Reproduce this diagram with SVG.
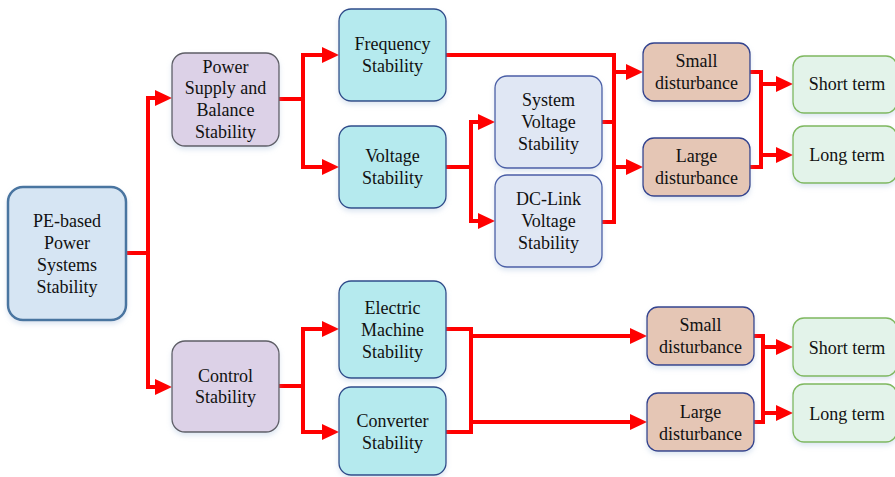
<svg xmlns="http://www.w3.org/2000/svg" width="895" height="477" viewBox="0 0 895 477" font-family="'Liberation Serif', 'DejaVu Serif', serif">
<style>
text{font-family:'Liberation Serif','DejaVu Serif',serif;font-size:18px;fill:#111;text-anchor:middle}
.b{stroke-width:1.3}
.pe{fill:#D6E5F3;stroke:#4A74A0;stroke-width:2.5}
.pu{fill:#DCD1E7;stroke:#5E5E66}
.cy{fill:#B5EAEE;stroke:#2F4C8A}
.lb{fill:#E0E7F4;stroke:#4A5EA6}
.br{fill:#E5C6B5;stroke:#33438F}
.gr{fill:#E3F3EA;stroke:#7FB85E}
.c{fill:none;stroke:#FF0000;stroke-width:4;marker-end:url(#ah)}
.n{fill:none;stroke:#FF0000;stroke-width:4}
</style>
<defs>
<marker id="ah" viewBox="0 0 17 16" refX="0" refY="8" markerWidth="17" markerHeight="16" markerUnits="userSpaceOnUse" orient="auto">
<path d="M0,0 L17,8 L0,16 z" fill="#FF0000"/>
</marker>
<filter id="sh" x="-10%" y="-10%" width="120%" height="130%">
<feDropShadow dx="0" dy="3" stdDeviation="2.5" flood-color="#9FB8D8" flood-opacity="0.35"/>
</filter>
</defs>
<rect width="895" height="477" fill="#fff"/>
<g id="connectors">
<path class="n" d="M126 253 H148"/>
<path class="c" d="M148 253 V98 H155"/>
<path class="c" d="M148 253 V387 H155"/>
<path class="n" d="M279 99 H303"/>
<path class="c" d="M303 99 V55 H322"/>
<path class="c" d="M303 99 V167 H322"/>
<path class="n" d="M446 167 H471"/>
<path class="c" d="M471 167 V122 H478"/>
<path class="c" d="M471 167 V221 H478"/>
<path class="n" d="M446 55 H614 V222 H602"/>
<path class="n" d="M602 122 H614"/>
<path class="c" d="M614 72 H626"/>
<path class="c" d="M614 167 H626"/>
<path class="n" d="M750 72 H761 V167 H750"/>
<path class="c" d="M761 84 H776"/>
<path class="c" d="M761 155 H776"/>
<path class="n" d="M279 386 H303"/>
<path class="c" d="M303 386 V329 H322"/>
<path class="c" d="M303 386 V432 H322"/>
<path class="n" d="M446 329 H471 V432 H446"/>
<path class="c" d="M471 336 H630"/>
<path class="c" d="M471 422 H630"/>
<path class="n" d="M754 336 H763 V422 H754"/>
<path class="c" d="M763 347 H776"/>
<path class="c" d="M763 413 H776"/>
</g>
<g id="pe"><rect class="pe" x="8" y="187" width="118" height="133" rx="15" filter="url(#sh)"/>
<text x="67" y="227">PE-based</text><text x="67" y="249">Power</text><text x="67" y="271">Systems</text><text x="67" y="293">Stability</text></g>
<g id="psb"><rect class="pu b" x="172" y="53" width="107" height="93" rx="13" filter="url(#sh)"/>
<text x="225.5" y="73">Power</text><text x="225.5" y="94">Supply and</text><text x="225.5" y="116">Balance</text><text x="225.5" y="138">Stability</text></g>
<g id="ctl"><rect class="pu b" x="172" y="341" width="107" height="91" rx="13" filter="url(#sh)"/>
<text x="225.5" y="382">Control</text><text x="225.5" y="403">Stability</text></g>
<g id="freq"><rect class="cy b" x="339" y="9" width="107" height="92" rx="12" filter="url(#sh)"/>
<text x="392.5" y="50">Frequency</text><text x="392.5" y="72">Stability</text></g>
<g id="volt"><rect class="cy b" x="339" y="126" width="107" height="82" rx="12" filter="url(#sh)"/>
<text x="392.5" y="162">Voltage</text><text x="392.5" y="184">Stability</text></g>
<g id="sysv"><rect class="lb b" x="495" y="76" width="107" height="92" rx="12" filter="url(#sh)"/>
<text x="548.5" y="106">System</text><text x="548.5" y="128">Voltage</text><text x="548.5" y="150">Stability</text></g>
<g id="dcl"><rect class="lb b" x="495" y="175" width="107" height="92" rx="12" filter="url(#sh)"/>
<text x="548.5" y="205">DC-Link</text><text x="548.5" y="227">Voltage</text><text x="548.5" y="249">Stability</text></g>
<g id="em"><rect class="cy b" x="339" y="281" width="107" height="97" rx="12" filter="url(#sh)"/>
<text x="392.5" y="314">Electric</text><text x="392.5" y="336">Machine</text><text x="392.5" y="358">Stability</text></g>
<g id="conv"><rect class="cy b" x="339" y="387" width="107" height="88" rx="12" filter="url(#sh)"/>
<text x="392.5" y="427">Converter</text><text x="392.5" y="449">Stability</text></g>
<g id="sd1"><rect class="br b" x="643" y="43" width="107" height="58" rx="11" filter="url(#sh)"/>
<text x="696.5" y="67">Small</text><text x="696.5" y="89">disturbance</text></g>
<g id="ld1"><rect class="br b" x="643" y="138" width="107" height="58" rx="11" filter="url(#sh)"/>
<text x="696.5" y="162">Large</text><text x="696.5" y="184">disturbance</text></g>
<g id="st1"><rect class="gr b" x="793" y="56" width="104" height="57" rx="11" filter="url(#sh)"/>
<text x="847" y="90">Short term</text></g>
<g id="lt1"><rect class="gr b" x="793" y="126" width="104" height="57" rx="11" filter="url(#sh)"/>
<text x="847" y="161">Long term</text></g>
<g id="sd2"><rect class="br b" x="647" y="307" width="107" height="58" rx="11" filter="url(#sh)"/>
<text x="700.5" y="331">Small</text><text x="700.5" y="353">disturbance</text></g>
<g id="ld2"><rect class="br b" x="647" y="393" width="107" height="58" rx="11" filter="url(#sh)"/>
<text x="700.5" y="418">Large</text><text x="700.5" y="440">disturbance</text></g>
<g id="st2"><rect class="gr b" x="793" y="318" width="104" height="58" rx="11" filter="url(#sh)"/>
<text x="847" y="354">Short term</text></g>
<g id="lt2"><rect class="gr b" x="793" y="384" width="104" height="58" rx="11" filter="url(#sh)"/>
<text x="847" y="420">Long term</text></g>
</svg>
